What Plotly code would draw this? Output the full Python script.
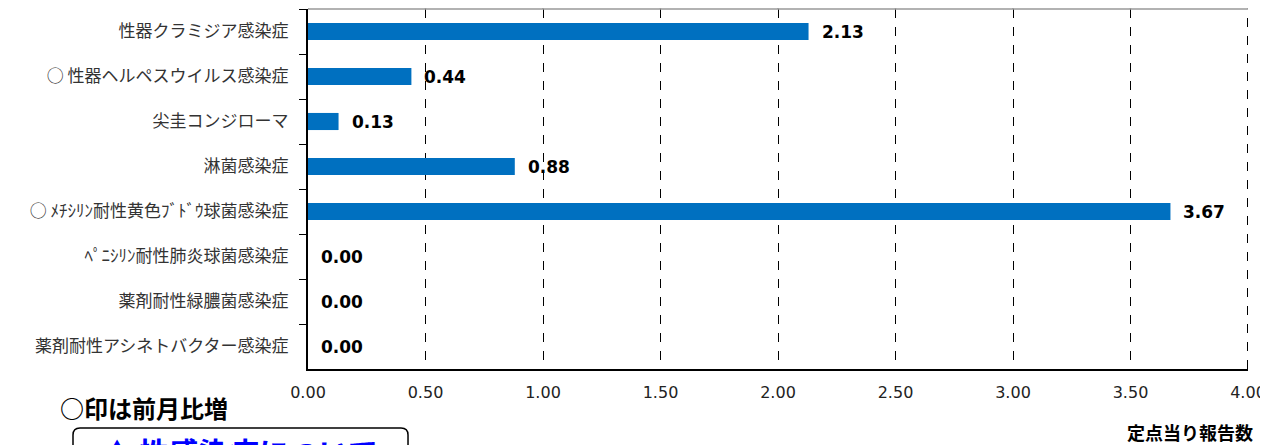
import plotly.graph_objects as go

categories = [
    "性器クラミジア感染症",
    "○ 性器ヘルペスウイルス感染症",
    "尖圭コンジローマ",
    "淋菌感染症",
    "○ ﾒﾁｼﾘﾝ耐性黄色ﾌﾞﾄﾞｳ球菌感染症",
    "ﾍﾟﾆｼﾘﾝ耐性肺炎球菌感染症",
    "薬剤耐性緑膿菌感染症",
    "薬剤耐性アシネトバクター感染症",
]
values = [2.13, 0.44, 0.13, 0.88, 3.67, 0.00, 0.00, 0.00]
tick_vals = [0, 0.5, 1.0, 1.5, 2.0, 2.5, 3.0, 3.5, 4.0]
tick_text = ["0.00", "0.50", "1.00", "1.50", "2.00", "2.50", "3.00", "3.50", "4.00"]

JP = "Noto Sans CJK JP"
NUM = "DejaVu Sans"

fig = go.Figure()
fig.add_trace(go.Bar(
    x=values, y=categories, orientation="h",
    marker=dict(color="#0070C0", line=dict(width=0)),
    width=0.38, hoverinfo="skip",
))

annotations = []
for c, v in zip(categories, values):
    annotations.append(dict(
        x=v, y=c, xref="x", yref="y", text=f"<b>{v:.2f}</b>",
        showarrow=False, xanchor="left", yanchor="middle", xshift=11,
        font=dict(family=NUM, size=17, color="#000000"),
    ))

annotations += [
    dict(x=-0.175, y=-0.108, xref="paper", yref="paper",
         text="<b>○印は前月比増</b>", showarrow=False,
         xanchor="center", yanchor="middle",
         font=dict(family=JP, size=24, color="#000000")),
    dict(x=1.0074, y=-0.175, xref="paper", yref="paper",
         text="<b>定点当り報告数</b>", showarrow=False,
         xanchor="right", yanchor="middle",
         font=dict(family=JP, size=18, color="#000000")),
    dict(x=-0.2213, y=-0.1694, xref="paper", yref="paper",
         text="<b>▲ 性感染症について</b>", showarrow=False,
         xanchor="left", yanchor="top", yshift=3,
         font=dict(family=JP, size=30, color="#0000FF")),
]

# rounded box (paper coordinates)
x0, x1 = -0.25, 0.1064
y0, y1 = -0.308, -0.1639
rx, ry = 7 / 940, 7 / 360
path = (f"M {x0} {y0} L {x0} {y1 - ry} Q {x0} {y1} {x0 + rx} {y1} "
        f"L {x1 - rx} {y1} Q {x1} {y1} {x1} {y1 - ry} L {x1} {y0}")

shapes = [
    dict(type="path", path=path, xref="paper", yref="paper",
         line=dict(color="#000000", width=1.5)),
    dict(type="line", xref="x", yref="paper", x0=4, x1=4, y0=0, y1=1,
         line=dict(color="#000000", width=2, dash="dash")),
    # top border line (gray)
    dict(type="line", xref="paper", yref="paper", x0=0, x1=1, y0=1, y1=1,
         line=dict(color="#999999", width=1.5)),
]
# small gray ticks on top border at each tick value
for tv in tick_vals:
    shapes.append(dict(type="line", xref="x", yref="paper", x0=tv, x1=tv,
                       y0=1, y1=1 + 5 / 360,
                       line=dict(color="#999999", width=1.5)))

fig.update_layout(
    width=1260, height=437,
    margin=dict(l=300, r=20, t=1, b=76),
    plot_bgcolor="white", paper_bgcolor="white",
    showlegend=False,
    annotations=annotations,
    shapes=shapes,
    xaxis=dict(
        range=[0, 4], tickvals=tick_vals, ticktext=tick_text,
        showgrid=True, gridcolor="#000000", gridwidth=1, griddash="dash",
        zeroline=False, showline=True, linecolor="#000000", linewidth=2,
        ticks="", tickfont=dict(family=NUM, size=16, color="#222222"),
        ticklabelstandoff=8, automargin=False,
    ),
    yaxis=dict(
        autorange="reversed", type="category", tickson="boundaries",
        ticks="outside", ticklen=7, tickcolor="#000000", tickwidth=1,
        showline=True, linecolor="#000000", linewidth=2,
        showgrid=False, zeroline=False,
        tickfont=dict(family=JP, size=17, color="#333333"),
        ticklabelstandoff=14, automargin=False,
    ),
)

fig.write_html("out.html")
